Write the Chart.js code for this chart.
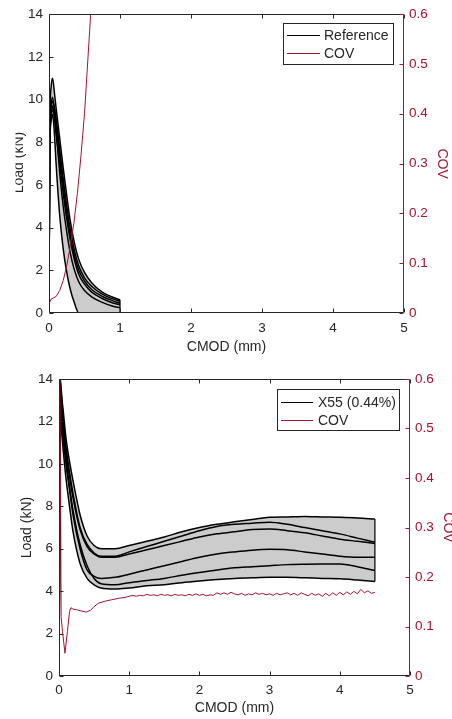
<!DOCTYPE html>
<html>
<head>
<meta charset="utf-8">
<script src="https://cdn.jsdelivr.net/npm/chart.js@4.4.0/dist/chart.umd.min.js"></script>
<style>
  html, body { margin: 0; padding: 0; background: #fff; }
  .wrap { position: absolute; left: 0; width: 452px; }
  #top { top: 0; height: 360px; }
  #bottom { top: 360px; height: 359px; }
</style>
</head>
<body>
<div class="wrap" id="top"><canvas id="chartTop" width="452" height="360"></canvas></div>
<div class="wrap" id="bottom"><canvas id="chartBottom" width="452" height="359"></canvas></div>
<script>
// tick labels
const cmodTicks = [0, 1, 2, 3, 4, 5];
const loadTicks = [0, 2, 4, 6, 8, 10, 12, 14];
const covTicks = [0, 0.1, 0.2, 0.3, 0.4, 0.5, 0.6];

// top chart: Reference specimens
const topCmod = [0, 0.01, 0.03, 0.05, 0.08, 0.1, 0.15, 0.2, 0.25, 0.3, 0.35, 0.42, 0.5, 0.6, 0.75, 0.9, 1.0];
const topLoad1 = [0, 8.5, 10.6, 11.0, 10.2, 9.6, 8.2, 6.8, 5.5, 4.3, 3.4, 2.5, 1.9, 1.42, 0.98, 0.74, 0.62];
const topLoad2 = [0, 8.0, 9.6, 9.9, 9.6, 9.1, 7.7, 6.3, 5.0, 3.9, 3.05, 2.2, 1.65, 1.25, 0.88, 0.66, 0.55];
const topLoad3 = [0, 7.6, 9.2, 9.5, 9.2, 8.7, 7.3, 6.0, 4.7, 3.6, 2.8, 2.0, 1.5, 1.1, 0.78, 0.57, 0.46];
const topLoad4 = [0, 7.8, 9.4, 9.7, 9.0, 8.4, 7.0, 5.6, 4.4, 3.4, 2.6, 1.8, 1.35, 0.98, 0.68, 0.47, 0.38];
const topLoad5 = [0, 8.2, 9.8, 10.1, 9.3, 8.6, 6.6, 5.0, 3.8, 2.8, 2.1, 1.45, 1.05, 0.76, 0.5, 0.32, 0.25];
const topLoad6 = [0, 7.5, 9.0, 9.3, 8.2, 7.0, 4.6, 3.0, 1.9, 1.1, 0.55, 0, 0, 0, 0, 0, 0];
const topCovCmod = [0, 0.005, 0.03, 0.1, 0.15, 0.2, 0.25, 0.3, 0.35, 0.4, 0.45, 0.5, 0.55, 0.6];
const topCov = [0, 0.02, 0.028, 0.033, 0.045, 0.065, 0.095, 0.135, 0.18, 0.24, 0.315, 0.4, 0.515, 0.63];

// bottom chart: X55 (0.44%) specimens
const bottomCmod = [0, 0.02, 0.05, 0.1, 0.15, 0.2, 0.3, 0.4, 0.5, 0.6, 0.8, 1.0, 1.25, 1.5, 1.75, 2.0, 2.25, 2.5, 2.75, 3.0, 3.25, 3.5, 3.75, 4.0, 4.25, 4.5];
const bottomLoad1 = [0, 13.5, 12.8, 11.2, 10.1, 9.2, 7.6, 6.6, 6.15, 6.0, 6.0, 6.15, 6.35, 6.55, 6.8, 7.0, 7.15, 7.27, 7.38, 7.48, 7.5, 7.52, 7.5, 7.48, 7.45, 7.4];
const bottomLoad2 = [0, 14.0, 12.5, 10.8, 9.6, 8.6, 7.0, 6.2, 5.8, 5.65, 5.65, 5.85, 6.1, 6.35, 6.6, 6.85, 7.05, 7.15, 7.2, 7.25, 7.15, 7.0, 6.85, 6.7, 6.5, 6.3];
const bottomLoad3 = [0, 13.0, 12.0, 10.5, 9.4, 8.4, 6.9, 6.1, 5.75, 5.6, 5.6, 5.75, 5.95, 6.15, 6.35, 6.55, 6.7, 6.8, 6.9, 6.93, 6.85, 6.75, 6.6, 6.45, 6.35, 6.25];
const bottomLoad4 = [0, 12.5, 11.5, 10.0, 8.8, 7.6, 6.0, 5.0, 4.7, 4.6, 4.65, 4.8, 5.0, 5.2, 5.4, 5.6, 5.75, 5.85, 5.93, 5.97, 5.95, 5.85, 5.75, 5.65, 5.6, 5.6];
const bottomLoad5 = [0, 13.2, 11.8, 10.2, 8.9, 7.8, 6.2, 5.2, 4.6, 4.35, 4.3, 4.4, 4.5, 4.6, 4.75, 4.88, 5.0, 5.1, 5.15, 5.2, 5.25, 5.27, 5.28, 5.28, 5.15, 4.97];
const bottomLoad6 = [0, 12.0, 11.0, 9.3, 8.0, 6.8, 5.3, 4.6, 4.3, 4.15, 4.1, 4.15, 4.25, 4.3, 4.4, 4.48, 4.55, 4.6, 4.63, 4.65, 4.65, 4.63, 4.6, 4.58, 4.52, 4.45];
const bottomCovCmod = [0.01, 0.025, 0.03, 0.05, 0.085, 0.12, 0.15, 0.17, 0.2, 0.25, 0.3, 0.39, 0.45, 0.5, 0.56, 0.65, 0.75, 0.85, 0.95,
  1.0, 1.05, 1.1, 1.15, 1.2, 1.25, 1.3, 1.35, 1.4, 1.45, 1.5, 1.55, 1.6, 1.65, 1.7, 1.75, 1.8, 1.85, 1.9, 1.95,
  2.0, 2.05, 2.1, 2.15, 2.2, 2.25, 2.3, 2.35, 2.4, 2.45, 2.5, 2.55, 2.6, 2.65, 2.7, 2.75, 2.8, 2.85, 2.9, 2.95,
  3.0, 3.05, 3.1, 3.15, 3.2, 3.25, 3.3, 3.35, 3.4, 3.45, 3.5, 3.55, 3.6, 3.65, 3.7, 3.75, 3.8, 3.85, 3.9, 3.95,
  4.0, 4.05, 4.1, 4.15, 4.2, 4.25, 4.3, 4.35, 4.4, 4.45, 4.5];
const bottomCov = [0.65, 0.3, 0.12, 0.09, 0.046, 0.09, 0.13, 0.138, 0.135, 0.134, 0.132, 0.129, 0.133, 0.14, 0.147, 0.151, 0.154, 0.157, 0.159,
  0.161, 0.163, 0.161, 0.163, 0.162, 0.165, 0.163, 0.164, 0.162, 0.165, 0.163, 0.164, 0.162, 0.165, 0.163, 0.164, 0.162, 0.165, 0.163, 0.166,
  0.163, 0.165, 0.162, 0.164, 0.163, 0.168, 0.165, 0.168, 0.165, 0.169, 0.166, 0.164, 0.167, 0.163, 0.166, 0.164, 0.168, 0.165, 0.167, 0.164,
  0.166, 0.163, 0.167, 0.164, 0.166, 0.168, 0.164, 0.167, 0.163, 0.168, 0.165, 0.162, 0.167, 0.163, 0.166, 0.161, 0.167, 0.162, 0.168, 0.163,
  0.169, 0.164, 0.170, 0.165, 0.171, 0.166, 0.175, 0.168, 0.172, 0.167, 0.169];

const AXIS = "#262626";
const RED = "#a2142f";
const GRAY = "#cccccc";
const FONT = '"Liberation Sans", Arial, Helvetica, sans-serif';

function toPoints(xs, ys) {
    return xs.map((x, i) => ({ x: x, y: ys[i] }));
}

function fixedTicks(list) {
    return function (scale) {
        scale.ticks = list.map(v => ({ value: v }));
    };
}

// MATLAB style box with inward ticks
const framePlugin = {
    id: "frame",
    afterDatasetsDraw(chart) {
        const { ctx, chartArea: a, scales } = chart;
        const L = Math.round(a.left) + 0.5, R = Math.round(a.right) - 0.5;
        const T = Math.round(a.top) + 0.5, B = Math.round(a.bottom) - 0.5;
        const tl = 4;
        ctx.save();
        ctx.lineWidth = 1;
        ctx.strokeStyle = AXIS;
        ctx.beginPath();
        ctx.moveTo(L, B); ctx.lineTo(L, T); ctx.lineTo(R, T);
        ctx.moveTo(L, B); ctx.lineTo(R, B);
        cmodTicks.forEach(v => {
            const px = Math.round(scales.x.getPixelForValue(v)) + 0.5;
            ctx.moveTo(px, B); ctx.lineTo(px, B - tl);
            ctx.moveTo(px, T); ctx.lineTo(px, T + tl);
        });
        loadTicks.forEach(v => {
            const py = Math.round(scales.load.getPixelForValue(v)) + 0.5;
            ctx.moveTo(L, py); ctx.lineTo(L + tl, py);
        });
        ctx.stroke();
        ctx.strokeStyle = RED;
        ctx.beginPath();
        ctx.moveTo(R, T); ctx.lineTo(R, B);
        covTicks.forEach(v => {
            const py = Math.round(scales.cov.getPixelForValue(v)) + 0.5;
            ctx.moveTo(R, py); ctx.lineTo(R - tl, py);
        });
        ctx.stroke();
        ctx.restore();
    }
};

const legendPlugin = {
    id: "boxLegend",
    afterDraw(chart, args, opts) {
        const ctx = chart.ctx;
        ctx.save();
        ctx.fillStyle = "#ffffff";
        ctx.fillRect(opts.x, opts.y, opts.w, opts.h);
        ctx.lineWidth = 1;
        ctx.strokeStyle = AXIS;
        ctx.strokeRect(opts.x + 0.5, opts.y + 0.5, opts.w, opts.h);
        ctx.font = "14px " + FONT;
        ctx.textBaseline = "middle";
        opts.items.forEach((item, i) => {
            const y = opts.rows[i];
            ctx.strokeStyle = item.color;
            ctx.beginPath();
            ctx.moveTo(opts.lineX1, y + 0.5);
            ctx.lineTo(opts.lineX2, y + 0.5);
            ctx.stroke();
            ctx.fillStyle = AXIS;
            ctx.fillText(item.text, opts.textX, y + 1);
        });
        ctx.restore();
    }
};

// left title of the top chart is cut off in the original figure
const clippedTitlePlugin = {
    id: "clippedTitle",
    afterDraw(chart, args, opts) {
        if (!opts.text) return;
        const ctx = chart.ctx;
        ctx.save();
        ctx.beginPath();
        ctx.rect(opts.clipLeft, 0, 60, chart.height);
        ctx.clip();
        ctx.translate(opts.x, opts.y);
        ctx.rotate(-Math.PI / 2);
        ctx.font = "14px " + FONT;
        ctx.fillStyle = AXIS;
        ctx.textAlign = "center";
        ctx.textBaseline = "middle";
        ctx.fillText(opts.text, 0, 0);
        ctx.restore();
    }
};

function makeChart(id, spec) {
    const curves = spec.loads;
    const upper = spec.cmod.map((x, i) => ({ x: x, y: Math.max(...curves.map(c => c[i])) }));
    const lower = spec.cmod.map((x, i) => ({ x: x, y: Math.min(...curves.map(c => c[i])) }));
    const last = spec.cmod.length - 1;

    const datasets = [
        { label: "COV", data: toPoints(spec.covCmod, spec.cov), yAxisID: "cov", borderColor: RED, borderWidth: 1, order: 0 },
    ];
    curves.forEach(c => {
        datasets.push({ label: spec.name, data: toPoints(spec.cmod, c), yAxisID: "load", borderColor: "#000", borderWidth: 1.5, cubicInterpolationMode: "monotone", order: 1 });
    });
    datasets.push({ label: "edge", data: [upper[last], lower[last]], yAxisID: "load", borderColor: "#000", borderWidth: 1.2, order: 1 });
    datasets.push({ label: "upper", data: upper, yAxisID: "load", borderColor: "rgba(0,0,0,0)", borderWidth: 0, backgroundColor: GRAY, fill: "+1", cubicInterpolationMode: "monotone", order: 2 });
    datasets.push({ label: "lower", data: lower, yAxisID: "load", borderColor: "rgba(0,0,0,0)", borderWidth: 0, fill: false, cubicInterpolationMode: "monotone", order: 2 });

    const tickFont = { family: FONT, size: 13.5 };
    const titleFont = { family: FONT, size: 14 };

    return new Chart(document.getElementById(id), {
        type: "line",
        data: { datasets: datasets },
        plugins: [framePlugin, legendPlugin, clippedTitlePlugin],
        options: {
            responsive: false,
            animation: false,
            devicePixelRatio: 1,
            layout: { padding: { top: spec.top, left: 0, right: 0, bottom: 0 } },
            elements: { point: { radius: 0, hoverRadius: 0 }, line: { tension: 0 } },
            plugins: {
                legend: { display: false },
                tooltip: { enabled: false },
                boxLegend: spec.legend,
                clippedTitle: spec.clippedTitle || {}
            },
            scales: {
                x: {
                    type: "linear", min: 0, max: 5,
                    afterBuildTicks: fixedTicks(cmodTicks),
                    afterFit: s => { s.height = spec.xHeight; },
                    grid: { display: false, drawTicks: false },
                    border: { display: false },
                    ticks: { color: AXIS, font: tickFont, padding: spec.xTickPad, maxRotation: 0, autoSkip: false },
                    title: { display: true, text: "CMOD (mm)", color: AXIS, font: titleFont, padding: { top: 0, bottom: spec.xTitlePad } }
                },
                load: {
                    type: "linear", position: "left", min: 0, max: 14,
                    afterBuildTicks: fixedTicks(loadTicks),
                    afterFit: s => { s.width = spec.leftWidth; },
                    grid: { display: false, drawTicks: false },
                    border: { display: false },
                    ticks: { color: AXIS, font: tickFont, padding: 6, autoSkip: false },
                    title: { display: spec.leftTitle, text: "Load (kN)", color: AXIS, font: titleFont, padding: { top: spec.leftTitlePad, bottom: 0 } }
                },
                cov: {
                    type: "linear", position: "right", min: 0, max: 0.6,
                    afterBuildTicks: fixedTicks(covTicks),
                    afterFit: s => { s.width = spec.rightWidth; },
                    grid: { display: false, drawTicks: false },
                    border: { display: false },
                    ticks: { color: RED, font: tickFont, padding: 5, autoSkip: false, callback: v => String(+v.toFixed(1)) },
                    title: { display: true, text: "COV", color: RED, font: titleFont, padding: { top: spec.rightTitlePad, bottom: 0 } }
                }
            }
        }
    });
}

makeChart("chartTop", {
    name: "Reference",
    cmod: topCmod,
    loads: [topLoad1, topLoad2, topLoad3, topLoad4, topLoad5, topLoad6],
    covCmod: topCovCmod,
    cov: topCov,
    top: 12, xHeight: 47, xTickPad: 7, xTitlePad: 4.6,
    leftWidth: 49, leftTitle: false, leftTitlePad: 0,
    rightWidth: 48, rightTitlePad: 1.6,
    clippedTitle: { text: "Load (kN)", x: 19, y: 162.5, clipLeft: 15.5 },
    legend: {
        x: 283, y: 23, w: 110, h: 41, lineX1: 287, lineX2: 320, textX: 324, rows: [35, 53],
        items: [{ text: "Reference", color: "#000" }, { text: "COV", color: RED }]
    }
});

makeChart("chartBottom", {
    name: "X55 (0.44%)",
    cmod: bottomCmod,
    loads: [bottomLoad1, bottomLoad2, bottomLoad3, bottomLoad4, bottomLoad5, bottomLoad6],
    covCmod: bottomCovCmod,
    cov: bottomCov,
    top: 19, xHeight: 43, xTickPad: 6, xTitlePad: 2.6,
    leftWidth: 59, leftTitle: true, leftTitlePad: 19.1,
    rightWidth: 42, rightTitlePad: -4.4,
    legend: {
        x: 277, y: 29, w: 122, h: 41, lineX1: 281, lineX2: 313, textX: 318, rows: [42, 60],
        items: [{ text: "X55 (0.44%)", color: "#000" }, { text: "COV", color: RED }]
    }
});
</script>
</body>
</html>
